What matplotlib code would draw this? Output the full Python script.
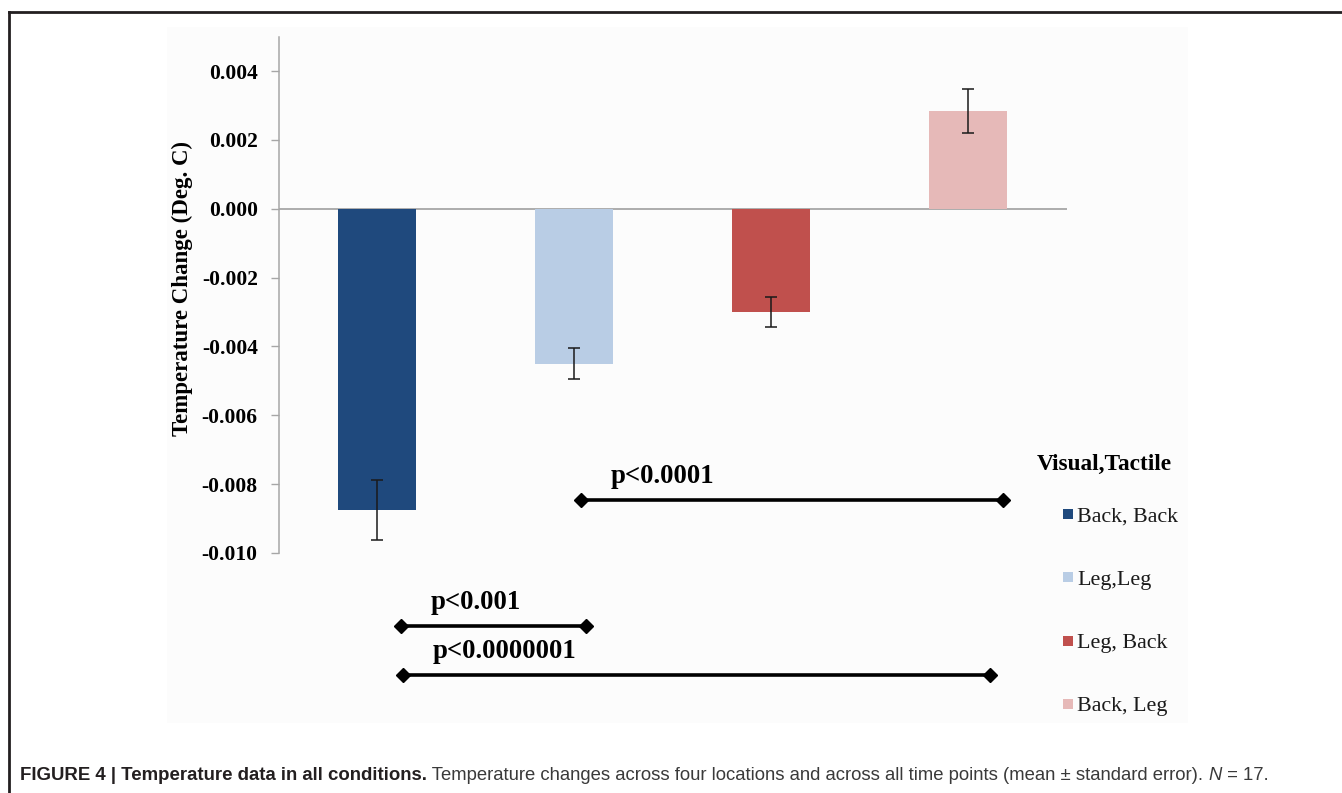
import matplotlib
matplotlib.use("Agg")
import matplotlib.pyplot as plt
from matplotlib.lines import Line2D
from matplotlib.patches import Rectangle

# ---------------- data ----------------
conditions = ["Back, Back", "Leg,Leg", "Leg, Back", "Back, Leg"]
means = [-0.00875, -0.0045, -0.0030, 0.00284]
errors = [0.00086, 0.00046, 0.00043, 0.00063]
colors = ["#1F497D", "#B9CDE5", "#C0504D", "#E6B9B8"]
yticks = [0.004, 0.002, 0.000, -0.002, -0.004, -0.006, -0.008, -0.010]
ytick_labels = ["0.004", "0.002", "0.000", "-0.002", "-0.004", "-0.006", "-0.008", "-0.010"]
ylabel = "Temperature Change (Deg. C)"
legend_title = "Visual,Tactile"
# significance comparisons: (start bar-x, end bar-x, line level, label)
sig_x0 = [1.035, 0.12, 0.13]
sig_x1 = [3.18, 1.06, 3.11]
sig_y = [-0.00845, -0.01213, -0.01353]
sig_labels = ["p<0.0001", "p<0.001", "p<0.0000001"]
caption_bold = "FIGURE 4 | Temperature data in all conditions."
caption_rest = " Temperature changes across four locations and across all time points (mean \u00b1 standard error). "
caption_italic = "N"
caption_end = " = 17."

W, H = 1342, 793
fig = plt.figure(figsize=(W / 100, H / 100), dpi=100)
fig.patch.set_facecolor("white")

def fx(px):
    return px / W

def fy(py):
    return 1 - py / H

# light chart background
fig.add_artist(Rectangle((fx(167), fy(723)), fx(1188) - fx(167), fy(27) - fy(723),
                         transform=fig.transFigure, facecolor="#fcfcfc", edgecolor="none", zorder=0))
# border (top and left)
fig.add_artist(Line2D([fx(9), 1.0], [fy(12), fy(12)], transform=fig.transFigure, color="#231f20", lw=2))
fig.add_artist(Line2D([fx(9), fx(9)], [fy(12), 0.0], transform=fig.transFigure, color="#231f20", lw=2))

ax_left, ax_right = 278.5, 1066.5
ax_top, ax_bot = 36.6, 553
ax = fig.add_axes([fx(ax_left), fy(ax_bot), fx(ax_right) - fx(ax_left), fy(ax_top) - fy(ax_bot)])
ax.set_facecolor("none")

x = list(range(len(conditions)))
ax.bar(x, means, width=0.4, color=colors, zorder=2)
ax.errorbar(x, means, yerr=errors, fmt="none", ecolor="#1a1a1a", elinewidth=1.1,
            capsize=4.2, capthick=1.1, zorder=3)
ax.axhline(0, color="#a6a6a6", lw=1.3, zorder=1)

ax.set_xlim(-0.5, 3.5)
ax.set_ylim(-0.010, 0.005)
ax.set_xticks([])
ax.set_yticks(yticks)
ax.set_yticklabels(ytick_labels, fontfamily="Liberation Serif", fontweight="bold", fontsize=15.5)
ax.tick_params(axis="y", direction="out", length=6, width=1, color="#a6a6a6", pad=9)
for s in ["top", "right", "bottom"]:
    ax.spines[s].set_visible(False)
ax.spines["left"].set_color("#a6a6a6")
ax.spines["left"].set_linewidth(1.1)
ax.spines["left"].set_bounds(-0.010, 0.005)

ax.set_ylabel(ylabel, fontfamily="Liberation Serif", fontweight="bold", fontsize=16.5)
ax.yaxis.set_label_coords(-0.108, 0.513)

# significance lines
for x0, x1, yv, lab in zip(sig_x0, sig_x1, sig_y, sig_labels):
    ax.plot([x0, x1], [yv, yv], color="black", lw=2.6, marker="D", markersize=7,
            clip_on=False, zorder=4, solid_capstyle="butt")
    ax.text(x0 + 0.15, yv + 0.00049, lab, fontfamily="Liberation Serif", fontweight="bold",
            fontsize=19.3, ha="left", va="baseline", clip_on=False)

# legend (manual)
fig.text(fx(1037), fy(464), legend_title, fontfamily="Liberation Serif", fontweight="bold",
         fontsize=16.8, ha="left", va="center")
for i, (lab, col) in enumerate(zip(conditions, colors)):
    yy = fy(514 + 63.3 * i)
    fig.add_artist(Rectangle((fx(1063), yy - 5 / H), 10 / W, 10 / H, transform=fig.transFigure,
                             facecolor=col, edgecolor="none"))
    fig.text(fx(1077), yy - 3 / H, lab, fontfamily="Liberation Serif", fontsize=15.8,
             ha="left", va="center", color="#1a1a1a")

# caption
bold_fam = ["Liberation Sans Narrow", "Liberation Sans", "DejaVu Sans"]
reg_fam = ["Liberation Sans", "DejaVu Sans"]
cap_y = fy(775)
renderer = fig.canvas.get_renderer()
t1 = fig.text(fx(20), cap_y, caption_bold, fontfamily=bold_fam, fontweight="bold", fontsize=13.4,
              ha="left", va="center", color="#231f20")
bb = t1.get_window_extent(renderer)
t2 = fig.text(bb.x1 / W, cap_y, caption_rest, fontfamily=reg_fam, fontsize=13.3,
              ha="left", va="center", color="#3a3a3a")
bb = t2.get_window_extent(renderer)
t3 = fig.text(bb.x1 / W, cap_y, caption_italic, fontfamily=reg_fam, fontstyle="italic", fontsize=13.3,
              ha="left", va="center", color="#3a3a3a")
bb = t3.get_window_extent(renderer)
fig.text(bb.x1 / W, cap_y, caption_end, fontfamily=reg_fam, fontsize=13.3,
         ha="left", va="center", color="#3a3a3a")

fig.savefig("out.png", dpi=100)
